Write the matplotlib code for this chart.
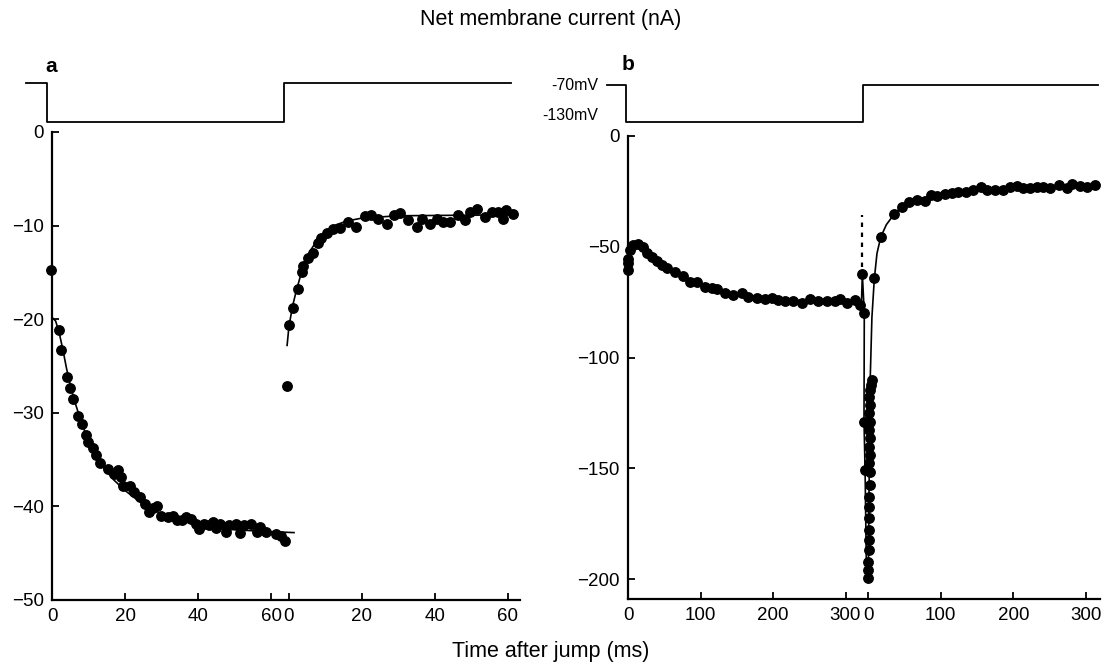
import numpy as np
import matplotlib.pyplot as plt

plt.rcParams['font.family'] = ['Liberation Sans', 'DejaVu Sans']

W, H = 1102, 666

# panel a, first 60 ms at -130 mV (t in ms, current in nA)
t_a1 = [-0.3, 2.0, 2.6, 4.0, 4.9, 5.8, 7.0, 8.1, 9.3, 9.9, 11.1, 12.0, 13.1, 15.3, 17.1,
        18.0, 18.9, 19.5, 21.3, 22.4, 24.2, 25.6, 26.7, 27.6, 28.8, 29.9, 31.7, 33.1, 34.3,
        35.6, 36.7, 38.0, 39.4, 40.3, 41.7, 42.9, 44.0, 44.9, 46.0, 47.6, 48.5, 50.5, 51.4,
        52.6, 54.4, 56.2, 57.1, 58.5, 61.3, 62.6, 63.8]
i_a1 = [-14.7, -21.2, -23.3, -26.2, -27.3, -28.5, -30.3, -31.2, -32.4, -33.1, -33.8, -34.5,
        -35.4, -36.0, -36.5, -36.1, -36.9, -37.8, -37.8, -38.5, -39.0, -39.7, -40.6, -40.2,
        -40.0, -41.0, -41.1, -41.0, -41.5, -41.4, -41.1, -41.3, -41.9, -42.4, -41.9, -42.0,
        -41.7, -42.3, -41.9, -42.7, -42.0, -41.9, -42.8, -42.0, -41.9, -42.7, -42.2, -42.7,
        -42.9, -43.2, -43.7]
fit_t_a1 = [0.0, 1.0, 2.0, 3.0, 4.0, 5.0, 6.0, 8.0, 10.0, 12.0, 14.0, 17.0, 20.0, 25.0,
            30.0, 35.0, 40.0, 50.0, 60.0, 66.3]
fit_i_a1 = [-19.8, -20.2, -21.5, -23.3, -25.3, -27.0, -28.5, -31.0, -33.0, -34.6, -35.8,
            -37.2, -38.3, -39.8, -40.8, -41.5, -42.0, -42.5, -42.7, -42.8]

# panel a, after the jump back to -70 mV
t_a2 = [-0.4, 0.1, 1.0, 2.6, 3.5, 3.8, 5.3, 6.7, 8.0, 8.8, 10.3, 12.1, 14.1, 16.2, 18.5,
        20.8, 22.6, 24.5, 26.8, 28.8, 30.4, 32.7, 35.0, 36.4, 38.7, 40.5, 42.3, 44.1, 46.4,
        48.2, 49.6, 51.4, 53.7, 55.6, 57.4, 58.7, 59.4, 61.5]
i_a2 = [-27.1, -20.6, -18.8, -16.8, -15.0, -14.3, -13.5, -12.9, -11.9, -11.3, -10.8, -10.4,
        -10.3, -9.6, -10.1, -9.0, -8.9, -9.3, -9.8, -8.9, -8.7, -9.4, -10.1, -9.3, -9.8,
        -9.3, -9.6, -9.6, -8.9, -9.4, -8.5, -8.2, -9.1, -8.5, -8.5, -9.3, -8.3, -8.8]
fit_t_a2 = [-0.5, 0.0, 1.0, 2.0, 3.0, 4.0, 5.0, 6.0, 8.0, 10.0, 13.0, 16.0, 20.0, 30.0,
            45.0, 62.0]
fit_i_a2 = [-22.8, -20.8, -18.6, -17.0, -15.6, -14.4, -13.4, -12.6, -11.4, -10.6, -9.9,
            -9.5, -9.2, -8.95, -8.9, -8.85]

# panel b, 300 ms at -130 mV
t_b1 = [0.4, 0.4, 0.6, 2.8, 7.3, 14.2, 20.0, 26.0, 33.0, 40.0, 47.0, 53.4, 64.8, 76.3,
        85.5, 94.8, 106.2, 115.4, 122.3, 133.8, 145.2, 156.8, 165.9, 177.5, 189.0, 198.2,
        207.3, 216.6, 228.0, 239.6, 251.0, 262.5, 274.0, 285.5, 292.4, 301.7, 313.1, 320.0,
        323.2, 325.9, 325.5, 326.9]
i_b1 = [-60.5, -57.4, -55.5, -51.4, -49.3, -48.8, -50.2, -52.6, -54.6, -56.5, -58.2, -59.7,
        -61.2, -63.4, -65.7, -65.7, -68.0, -68.8, -69.2, -71.0, -71.7, -70.7, -72.8, -73.2,
        -73.7, -73.2, -74.0, -74.7, -74.5, -75.5, -73.7, -74.7, -74.7, -74.5, -73.7, -75.2,
        -74.0, -76.2, -62.2, -80.0, -129.0, -150.8]
fit_t_b1 = [0.0, 1.0, 4.0, 8.0, 20.0, 40.0, 60.0, 80.0, 100.0, 130.0, 160.0, 200.0, 250.0,
            300.0, 322.0, 323.2, 325.9, 325.5, 327.0, 329.0]
fit_i_b1 = [-62.0, -53.0, -49.5, -48.8, -50.5, -56.0, -60.5, -64.0, -67.0, -70.0, -72.0,
            -73.5, -74.5, -75.0, -75.5, -62.2, -80.0, -129.0, -151.0, -200.0]

# panel b, after the jump back to -70 mV
t_b2 = [4.7, 3.3, 2.3, 1.4, 2.3, 1.4, 2.3, 1.4, 2.3, 1.4, 2.3, 1.4, 2.3, 2.3, 1.4, 1.4, 1.4,
        1.4, 1.4, 1.4, 0.0, 0.0, -0.8, 7.9, 17.1, 35.4, 46.1, 56.6, 67.6, 78.2, 86.1, 95.2,
        105.8, 115.0, 124.1, 134.8, 144.8, 155.0, 163.3, 174.8, 186.2, 195.4, 204.7, 213.8,
        223.0, 232.3, 241.4, 250.6, 263.0, 273.7, 280.6, 292.7, 301.2, 312.7]
i_b2 = [-110.1, -112.4, -114.6, -117.7, -121.4, -125.2, -128.9, -132.7, -136.5, -140.2,
        -144.0, -147.8, -151.6, -157.6, -162.9, -167.4, -172.6, -177.9, -182.4, -186.9,
        -192.2, -196.0, -199.7, -64.2, -45.6, -35.1, -32.1, -30.0, -28.8, -29.2, -26.5,
        -27.3, -26.2, -25.8, -25.3, -25.5, -24.3, -23.2, -24.6, -24.3, -24.3, -23.1, -22.5,
        -23.5, -23.5, -23.2, -23.2, -23.5, -22.0, -23.5, -21.6, -22.5, -23.1, -22.0]
fit_t_b2 = [0.0, 2.4, 5.0, 8.3, 12.0, 17.2, 25.0, 35.0, 46.0, 60.0, 80.0, 100.0, 130.0,
            160.0, 200.0, 250.0, 300.0, 315.0]
fit_i_b2 = [-200.0, -113.0, -82.0, -64.6, -53.0, -45.6, -40.0, -35.6, -31.8, -29.5, -27.5,
            -26.3, -25.2, -24.2, -23.4, -23.0, -22.6, -22.4]
dash_t_b = [322.3, 322.3]
dash_i_b = [-59.0, -35.6]

# voltage protocol drawn above each panel (plot x units, mV)
volt_x_a = [-7.1, -1.4, -1.4, 63.6, 63.6, 125.8]
volt_x_b = [-29.0, -2.8, -2.8, 324.0, 324.0, 648.0]
volt_v = [-70, -70, -130, -130, -70, -70]

# x axis: two time segments per panel
ticks_a = [0, 20, 40, 60]
ticks_b = [0, 100, 200, 300]
OFF_A = 64.9
OFF_B = 331.4


def px_axes(fig, x0, y0, x1, y1):
    return fig.add_axes([x0 / W, 1 - y1 / H, (x1 - x0) / W, (y1 - y0) / H])


def style(ax):
    for s in ['top', 'right']:
        ax.spines[s].set_visible(False)
    for s in ['left', 'bottom']:
        ax.spines[s].set_linewidth(1.6)
    ax.tick_params(direction='in', length=5, width=1.3, labelsize=13.5, pad=6)


def draw_panel(ax, t1, i1, ft1, fi1, t2, i2, ft2, fi2, off):
    ax.plot(ft1, fi1, color='black', lw=1.2, clip_on=False, zorder=2)
    ax.plot(off + np.array(ft2), fi2, color='black', lw=1.2, clip_on=False, zorder=2)
    ax.plot(t1, i1, 'o', color='black', ms=6.8, clip_on=False, zorder=3)
    ax.plot(off + np.array(t2), i2, 'o', color='black', ms=6.8, clip_on=False, zorder=3)


fig = plt.figure(figsize=(W / 100, H / 100), dpi=100)

# ---- panel a
ax_a = px_axes(fig, 52, 132, 520, 600)
style(ax_a)
ax_a.set_xlim(0, 128.2)
ax_a.set_ylim(-50, 0)
draw_panel(ax_a, t_a1, i_a1, fit_t_a1, fit_i_a1, t_a2, i_a2, fit_t_a2, fit_i_a2, OFF_A)
ax_a.set_xticks(ticks_a + [OFF_A + t for t in ticks_a])
ax_a.set_xticklabels([str(t) for t in ticks_a] * 2)
ax_a.set_yticks([0, -10, -20, -30, -40, -50])
ax_a.set_yticklabels(['0', '\u221210', '\u221220', '\u221230', '\u221240', '\u221250'])

axv_a = px_axes(fig, 52, 70, 520, 130)
axv_a.set_xlim(0, 128.2)
axv_a.set_ylim(-143, -50)
axv_a.axis('off')
axv_a.plot(volt_x_a, volt_v, color='black', lw=1.3, clip_on=False)

# ---- panel b
ax_b = px_axes(fig, 628, 136, 1100, 599)
style(ax_b)
ax_b.set_xlim(0, 651)
ax_b.set_ylim(-209, 0)
draw_panel(ax_b, t_b1, i_b1, fit_t_b1, fit_i_b1, t_b2, i_b2, fit_t_b2, fit_i_b2, OFF_B)
ax_b.plot(dash_t_b, dash_i_b, color='black', lw=1.6, ls=(0, (2, 2.5)), clip_on=False)
ax_b.set_xticks(ticks_b + [OFF_B + t for t in ticks_b])
ax_b.set_xticklabels([str(t) for t in ticks_b] * 2)
ax_b.set_yticks([0, -50, -100, -150, -200])
ax_b.set_yticklabels(['0', '\u221250', '\u2212100', '\u2212150', '\u2212200'])

axv_b = px_axes(fig, 628, 70, 1100, 130)
axv_b.set_xlim(0, 651)
axv_b.set_ylim(-143, -45.8)
axv_b.axis('off')
axv_b.plot(volt_x_b, volt_v, color='black', lw=1.3, clip_on=False)

# ---- labels
fig.text(598 / W, 1 - 86 / H, '-70mV', ha='right', va='center', fontsize=11.5)
fig.text(598 / W, 1 - 116 / H, '-130mV', ha='right', va='center', fontsize=11.5)
fig.text(51 / W, 1 - 72 / H, 'a', ha='center', va='baseline', fontsize=15, fontweight='bold')
fig.text(628 / W, 1 - 70 / H, 'b', ha='center', va='baseline', fontsize=15, fontweight='bold')
fig.text(551 / W, 1 - 19 / H, 'Net membrane current (nA)', ha='center', va='center',
         fontsize=15.5)
fig.text(551 / W, 1 - 652 / H, 'Time after jump (ms)', ha='center', va='center',
         fontsize=15.5)

fig.savefig('out.png', dpi=100)
